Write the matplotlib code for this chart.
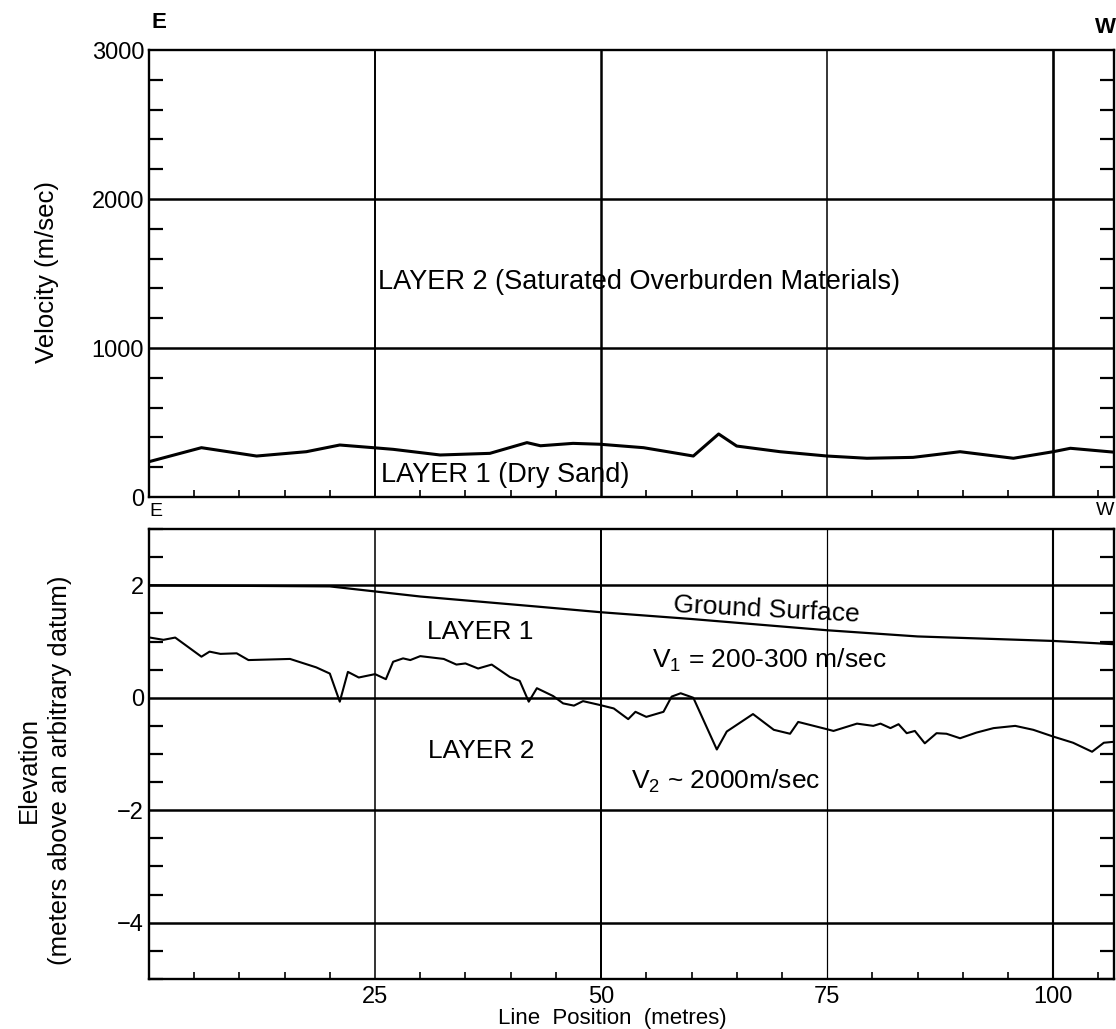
import numpy as np
import matplotlib
matplotlib.use("Agg")
import matplotlib.pyplot as plt
from matplotlib.ticker import MultipleLocator, FixedLocator, NullFormatter

plt.rcParams['font.family'] = ['Liberation Sans', 'DejaVu Sans']
plt.rcParams['mathtext.fontset'] = 'custom'
plt.rcParams['mathtext.rm'] = 'Liberation Sans'
plt.rcParams['mathtext.it'] = 'Liberation Sans'

# velocity of layer 1 along the line (m/sec)
x_vel = [0, 5.8, 11.9, 17.4, 21.1, 24.8, 27, 32.2, 37.7, 41.8, 43.3, 46.9, 49.9,
         54.7, 60.2, 63, 65, 69.8, 75, 79.4, 84.5, 89.7, 95.6, 100, 101.9, 106.9]
vel = [237, 331, 275, 304, 349, 331, 320, 282, 293, 365, 344, 360, 354,
       331, 275, 423, 342, 304, 275, 260, 266, 304, 260, 304, 327, 300]

# ground surface elevation (m)
x_ground = [0, 20, 25, 30, 43, 50, 60, 75, 85, 100, 107]
ground = [2.0, 1.98, 1.89, 1.80, 1.62, 1.52, 1.40, 1.20, 1.09, 1.01, 0.95]

# layer 1 / layer 2 interface elevation (m)
x_iface = [0.1, 1.6, 2.9, 5.8, 6.7, 7.9, 9.7, 11, 15.6, 18.5, 20, 21.1, 22, 23.2,
           25, 26.2, 27, 28.1, 28.9, 30, 32.6, 34, 35, 36.4, 37.9, 39.9, 41, 42,
           42.9, 44.7, 45.8, 47, 48, 49.9, 51.4, 53, 53.8, 55, 56.9, 57.8, 58.8,
           60.2, 62.8, 63.9, 66.8, 69.1, 70.9, 71.8, 75, 75.7, 78.3, 80.1, 80.9,
           82, 82.9, 83.8, 84.7, 85.8, 87.1, 88.2, 89.7, 91.5, 93.4, 95.8, 97.8,
           100, 102.2, 104.3, 105.6, 106.9]
iface = [1.07, 1.03, 1.07, 0.73, 0.82, 0.78, 0.79, 0.67, 0.69, 0.54, 0.43, -0.07,
         0.46, 0.36, 0.42, 0.33, 0.64, 0.70, 0.67, 0.74, 0.69, 0.59, 0.61, 0.52,
         0.59, 0.37, 0.30, -0.07, 0.17, 0.03, -0.10, -0.14, -0.06, -0.13, -0.19,
         -0.38, -0.25, -0.34, -0.25, 0.02, 0.08, 0.0, -0.92, -0.60, -0.29, -0.57,
         -0.64, -0.43, -0.56, -0.59, -0.46, -0.50, -0.46, -0.54, -0.47, -0.63,
         -0.59, -0.81, -0.63, -0.64, -0.72, -0.62, -0.54, -0.50, -0.57, -0.69,
         -0.80, -0.96, -0.80, -0.78]

vel_ticks = [0, 1000, 2000, 3000]
elev_ticks = [-4, -2, 0, 2]
elev_labels = ['\u22124', '\u22122', '0', '2']
pos_ticks = [25, 50, 75, 100]

fig = plt.figure(figsize=(11.16, 10.29), dpi=100)
ax1 = fig.add_axes([0.1335, 0.517, 0.8645, 0.4344])
ax2 = fig.add_axes([0.1335, 0.0486, 0.8645, 0.4373])

for ax in (ax1, ax2):
    ax.set_xlim(0, 106.7)
    ax.xaxis.set_major_locator(FixedLocator(pos_ticks))
    ax.xaxis.set_minor_locator(MultipleLocator(5))
    ax.tick_params(axis='both', which='both', direction='in', color='black')
    ax.tick_params(axis='y', which='both', left=True, right=True)
    ax.tick_params(axis='y', which='minor', length=10, width=1.6)
    ax.tick_params(axis='x', which='minor', length=5, width=1.2)
    ax.tick_params(axis='both', which='major', length=0, labelsize=17)
    for s in ax.spines.values():
        s.set_linewidth(1.7)
    for xv, w in zip(pos_ticks, [1.4, 1.8, 1.1, 1.9]):
        ax.axvline(xv, color='black', lw=w if ax is ax1 else w * 0.8, zorder=1)

# top panel: velocity
ax1.set_ylim(0, 3000)
ax1.set_yticks(vel_ticks)
ax1.yaxis.set_minor_locator(MultipleLocator(200))
ax1.xaxis.set_major_formatter(NullFormatter())
for yv in vel_ticks[1:3]:
    ax1.axhline(yv, color='black', lw=1.8, zorder=1)
ax1.plot(x_vel, vel, color='black', lw=2.2, zorder=3)
ax1.text(25.3, 1443, 'LAYER 2 (Saturated Overburden Materials)', fontsize=19.5,
         va='center', ha='left')
ax1.text(25.7, 148, 'LAYER 1 (Dry Sand)', fontsize=19.5, va='center', ha='left')

# bottom panel: elevation
ax2.set_ylim(-5, 3)
ax2.set_yticks(elev_ticks)
ax2.set_yticklabels(elev_labels)
ax2.yaxis.set_minor_locator(MultipleLocator(0.5))
ax2.set_xticklabels([str(t) for t in pos_ticks])
ax2.tick_params(axis='x', which='major', pad=5)
for yv in elev_ticks:
    ax2.axhline(yv, color='black', lw=1.8, zorder=1)
ax2.plot(x_ground, ground, color='black', lw=1.6, zorder=3)
ax2.plot(x_iface, iface, color='black', lw=1.5, zorder=3)

ax2.text(57.9, 1.56, 'Ground Surface', fontsize=19, va='center', ha='left', rotation=-3)
ax2.text(30.7, 1.17, 'LAYER 1', fontsize=19, va='center', ha='left')
ax2.text(55.6, 0.67, 'V$_1$ = 200-300 m/sec', fontsize=19, va='center', ha='left')
ax2.text(30.9, -0.94, 'LAYER 2', fontsize=19, va='center', ha='left')
ax2.text(53.3, -1.49, 'V$_2$ ~ 2000m/sec', fontsize=19, va='center', ha='left')

# axis titles and E/W markers
fig.text(0.0425, 0.7357, 'Velocity (m/sec)', rotation=90, fontsize=18.5,
         ha='center', va='center')
fig.text(0.040, 0.2517, 'Elevation\n(meters above an arbitrary datum)', rotation=90,
         fontsize=18.5, ha='center', va='center', linespacing=1.35, multialignment='center')
fig.text(0.5487, 0.0105, 'Line  Position  (metres)', fontsize=16, ha='center', va='center')
fig.text(0.136, 0.9786, 'E', fontsize=16, fontweight='bold', ha='left', va='center')
fig.text(0.981, 0.9735, 'W', fontsize=16, fontweight='bold', ha='left', va='center')
fig.text(0.1335, 0.5025, 'E', fontsize=14, ha='left', va='center')
fig.text(0.982, 0.5035, 'W', fontsize=14, ha='left', va='center')

fig.savefig('out.png', dpi=100)
